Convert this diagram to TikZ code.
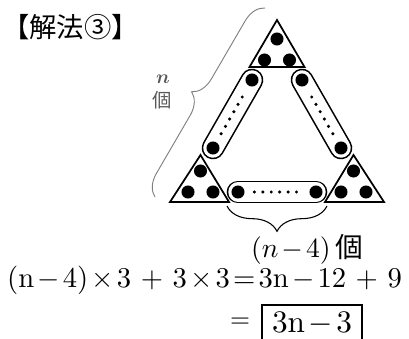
\documentclass[tikz,border=0pt]{standalone}
\usepackage{fontspec}
\usepackage{amsmath}
\usepackage{graphicx}
\newfontfamily\jfont{Noto Sans CJK JP}
\newcommand\zen[1]{\makebox[1em]{$#1$}}
\usetikzlibrary{decorations.pathreplacing, calc}

\begin{document}
\begin{tikzpicture}[
  x=0.75pt, y=-0.75pt,
  tri/.style={draw, line width=1.3pt, line join=miter},
  bead/.style={circle, fill=black, inner sep=0pt, minimum size=9.8pt},
  pip/.style={circle, fill=black, inner sep=0pt, minimum size=2.6pt},
  capout/.style={line width=17pt, line cap=round},
  capin/.style={white, line width=14.6pt, line cap=round},
  gbrace/.style={draw=gray, line width=0.7pt, decorate},
  kbrace/.style={draw=black, line width=0.8pt, decorate},
  txt/.style={inner sep=0pt}
]
\useasboundingbox (0,0) rectangle (409,338);

% corner triangles
\coordinate (t1) at (277,20);
\coordinate (t2) at (249.5,67);
\coordinate (t3) at (304.5,67);
\coordinate (l1) at (200.5,155);
\coordinate (l2) at (170,202);
\coordinate (l3) at (229,202);
\coordinate (r1) at (353.5,155);
\coordinate (r2) at (325,202);
\coordinate (r3) at (384,202);

% ends of the long groups
\coordinate (La) at (213,148);
\coordinate (Lb) at (252,80);
\coordinate (Ra) at (341,148);
\coordinate (Rb) at (302,80);
\coordinate (Ba) at (238,192);
\coordinate (Bb) at (316,192);

\foreach \a/\b in {La/Lb, Ra/Rb, Ba/Bb} {
  \draw[capout] (\a) -- (\b);
  \draw[capin] (\a) -- (\b);
  \foreach \t in {0.25,0.358,0.466,0.574,0.682,0.79}
    \node[pip] at ($(\b)!\t!(\a)$) {};
  \node[bead] at (\a) {};
  \node[bead] at (\b) {};
}

\draw[tri] (t1) -- (t2) -- (t3) -- cycle;
\draw[tri] (l1) -- (l2) -- (l3) -- cycle;
\draw[tri] (r1) -- (r2) -- (r3) -- cycle;

\foreach \p in {(277,39), (264.5,60), (289.5,60),
                (200.5,171), (188,192), (213,192),
                (353.5,171), (341,192), (366,192)}
  \node[bead] at \p {};

% braces
\draw[gbrace, decoration={brace, amplitude=16pt}] (155,197) -- (265,8);
\draw[kbrace, decoration={brace, amplitude=19pt}] (327,206) -- (227,206);

% texts
\node[txt, anchor=west] (title) at (2,27)
  {\jfont\fontsize{20.5}{20.5}\selectfont 【解法③】};
\node[txt, text=gray!70!black] (nlab) at (163,79)
  {\fontsize{14}{14}\selectfont$\boldsymbol{n}$};
\node[txt, text=gray!70!black] (ko) at (162,100)
  {\jfont\fontsize{14.5}{14.5}\selectfont 個};
\node[txt] (cnt) at (307,249)
  {\resizebox{84pt}{!}{($n$\zen{-}4)\,{\jfont 個}}};
\node[txt] (eq) at (204.5,280)
  {\resizebox{296pt}{!}{(n\zen{-}4)\zen{\times}3 + 3\zen{\times}3\zen{=}3n\zen{-}12 + 9}};
\node[txt] (eqs) at (240,323) {\resizebox{15pt}{!}{$=$}};
\node[txt] (ans) at (312,323) {\resizebox{60pt}{!}{3n\zen{-}3}};
\draw[line width=0.9pt] (262,345) -- (262,305) -- (362,305) -- (362,345);
\end{tikzpicture}
\end{document}
